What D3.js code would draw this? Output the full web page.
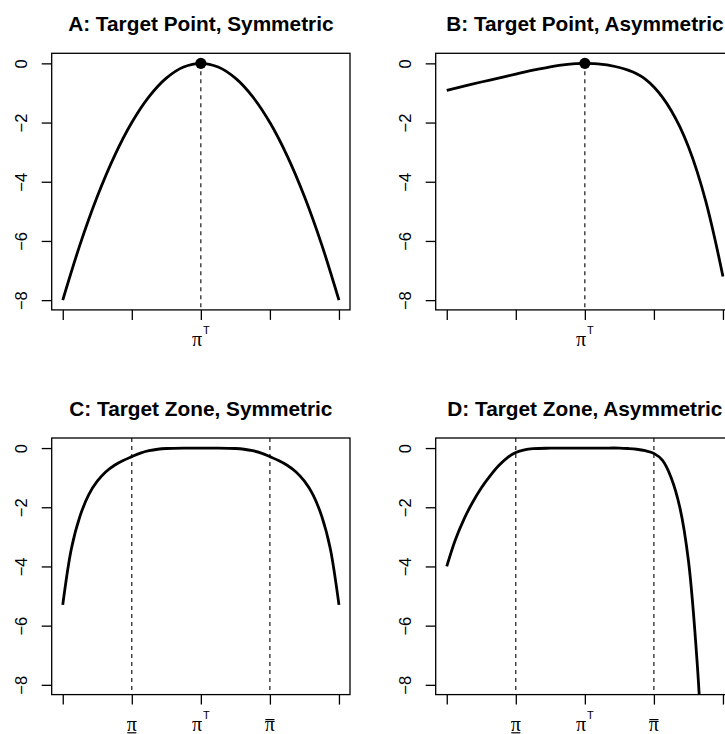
<!DOCTYPE html>
<html><head><meta charset="utf-8">
<script src="https://cdn.jsdelivr.net/npm/d3@7"></script>
<style>body{margin:0;background:#fff;overflow:hidden;} svg{display:block;}</style>
</head><body>
<svg id="c" width="725" height="734"></svg>
<script>
// ---- data ----
const titles = ["A: Target Point, Symmetric", "B: Target Point, Asymmetric",
                "C: Target Zone, Symmetric", "D: Target Zone, Asymmetric"];
const xTicks = [-2, -1, 0, 1, 2];
const yTicks = [0, -2, -4, -6, -8];
const xLabelsPoint = ["", "", "piT", "", ""];
const xLabelsZone = ["", "piLow", "piT", "piHigh", ""];

const xA = [-2,-1.75,-1.5,-1.25,-1,-0.75,-0.5,-0.25,0,0.25,0.5,0.75,1,1.25,1.5,1.75,2];
const yA = [-8,-6.125,-4.5,-3.125,-2,-1.125,-0.5,-0.125,0,-0.125,-0.5,-1.125,-2,-3.125,-4.5,-6.125,-8];

const xB = [-2,-1.75,-1.5,-1.25,-1,-0.75,-0.5,-0.375,-0.25,-0.125,0,0.125,0.25,0.375,0.5,0.625,0.75,0.875,1,1.125,1.25,1.375,1.5,1.625,1.75,1.875,2];
const yB = [-0.91,-0.77,-0.63,-0.5,-0.36,-0.23,-0.115,-0.07,-0.035,-0.009,0,-0.01,-0.035,-0.075,-0.14,-0.23,-0.35,-0.53,-0.8,-1.15,-1.59,-2.14,-2.82,-3.65,-4.65,-5.85,-7.2];

const xC = [-2,-1.875,-1.75,-1.625,-1.5,-1.375,-1.25,-1.125,-1,-0.875,-0.75,-0.625,-0.5,-0.25,0,0.25,0.5,0.625,0.75,0.875,1,1.125,1.25,1.375,1.5,1.625,1.75,1.875,2];
const yC = [-5.3,-3.4,-2.3,-1.58,-1.12,-0.8,-0.58,-0.42,-0.29,-0.17,-0.09,-0.04,-0.015,0,0,0,-0.015,-0.04,-0.09,-0.17,-0.29,-0.42,-0.58,-0.8,-1.12,-1.58,-2.3,-3.4,-5.3];

const xD = [-2,-1.875,-1.75,-1.625,-1.5,-1.375,-1.25,-1.125,-1,-0.875,-0.75,-0.5,-0.25,0,0.25,0.5,0.625,0.75,0.875,1,1.125,1.25,1.375,1.5,1.625,1.75];
const yD = [-4.0,-3.1,-2.4,-1.83,-1.35,-0.95,-0.6,-0.33,-0.15,-0.06,-0.02,-0.004,0,0,0,0,-0.015,-0.04,-0.09,-0.18,-0.42,-1.0,-2.0,-3.8,-7.2,-12.5];

const targetPoint = [0, 0];
const zoneBounds = [-1, 1];

const panels = [
  {title: titles[0], xs: xA, ys: yA, labels: xLabelsPoint, point: true},
  {title: titles[1], xs: xB, ys: yB, labels: xLabelsPoint, point: true},
  {title: titles[2], xs: xC, ys: yC, labels: xLabelsZone, point: false},
  {title: titles[3], xs: xD, ys: yD, labels: xLabelsZone, point: false}
];

// ---- layout ----
const svg = d3.select("#c");
const colLeft = [51.7, 435.7], rowTop = [53.3, 438.0];
const boxW = 298.3, boxH = 256.6;
const sans = "'Liberation Sans', Arial, Helvetica, sans-serif";
const serif = "'Liberation Serif', 'DejaVu Serif', serif";

panels.forEach((p, i) => {
  const left = colLeft[i % 2], top = rowTop[Math.floor(i / 2)];
  const bottom = top + boxH, right = left + boxW;
  const x = d3.scaleLinear().domain([-2.16, 2.16]).range([left, right]);
  const y = d3.scaleLinear().domain([-8.33, 0.34]).range([bottom, top]);
  const g = svg.append("g");

  const clipId = "clip" + i;
  svg.append("clipPath").attr("id", clipId).append("rect")
    .attr("x", left).attr("y", top).attr("width", boxW).attr("height", boxH);

  // title
  g.append("text").attr("x", left + boxW / 2).attr("y", top - 22.5)
    .attr("text-anchor", "middle").attr("font-family", sans)
    .attr("font-weight", "bold").attr("font-size", 20.8).text(p.title);

  // dashed reference lines
  const dl = g.append("g").attr("clip-path", `url(#${clipId})`);
  if (p.point) {
    dl.append("line").attr("x1", x(targetPoint[0])).attr("x2", x(targetPoint[0]))
      .attr("y1", y(targetPoint[1])).attr("y2", bottom)
      .attr("stroke", "#000").attr("stroke-width", 1.1).attr("stroke-dasharray", "4,4");
  } else {
    zoneBounds.forEach(b => {
      dl.append("line").attr("x1", x(b)).attr("x2", x(b))
        .attr("y1", top).attr("y2", bottom)
        .attr("stroke", "#000").attr("stroke-width", 1.1).attr("stroke-dasharray", "4,4");
    });
  }

  // curve
  const line = d3.line().x(d => x(d[0])).y(d => y(d[1])).curve(d3.curveCatmullRom.alpha(0.5));
  g.append("g").attr("clip-path", `url(#${clipId})`).append("path")
    .datum(p.xs.map((v, k) => [v, p.ys[k]]))
    .attr("d", line).attr("fill", "none").attr("stroke", "#000")
    .attr("stroke-width", 2.8).attr("stroke-linejoin", "round");

  if (p.point) {
    g.append("circle").attr("cx", x(targetPoint[0])).attr("cy", y(targetPoint[1]))
      .attr("r", 5.6).attr("fill", "#000");
  }

  // box
  g.append("rect").attr("x", left).attr("y", top).attr("width", boxW).attr("height", boxH)
    .attr("fill", "none").attr("stroke", "#000").attr("stroke-width", 1.3);

  // y axis
  const ya = g.append("g").attr("transform", `translate(${left},0)`)
    .call(d3.axisLeft(y).tickValues(yTicks).tickSize(10).tickSizeOuter(0)
      .tickFormat(d => d === 0 ? "0" : "\u2212" + Math.abs(d)));
  ya.select(".domain").remove();
  ya.selectAll(".tick line").attr("stroke", "#000").attr("stroke-width", 1.3);
  ya.selectAll(".tick text").attr("transform", "rotate(-90)")
    .attr("x", 0).attr("y", -25).attr("dy", 0).attr("text-anchor", "middle")
    .attr("font-family", sans).attr("font-size", 16.5).attr("fill", "#000");

  // x axis
  const xa = g.append("g").attr("transform", `translate(0,${bottom})`)
    .call(d3.axisBottom(x).tickValues(xTicks).tickSize(10).tickSizeOuter(0).tickFormat(""));
  xa.select(".domain").remove();
  xa.selectAll(".tick line").attr("stroke", "#000").attr("stroke-width", 1.3);

  // x labels (plotmath-like)
  xTicks.forEach((t, k) => {
    const kind = p.labels[k];
    if (!kind) return;
    const base = bottom + 36;
    const tx = g.append("text").attr("x", x(t)).attr("y", base).attr("text-anchor", "middle");
    tx.append("tspan").attr("font-family", serif).attr("font-size", 20).text("\u03C0");
    if (kind === "piT") {
      tx.append("tspan").attr("font-family", sans).attr("font-size", 11).attr("dy", -11.5).attr("dx", 1).text("T");
    } else {
      const bb = tx.node().getBBox();
      const ly = kind === "piLow" ? base + 2.2 : base - 11;
      g.append("line").attr("x1", bb.x + 0.5).attr("x2", bb.x + bb.width - 0.5)
        .attr("y1", ly).attr("y2", ly).attr("stroke", "#000").attr("stroke-width", 1.2);
    }
  });
});
</script>
</body></html>
